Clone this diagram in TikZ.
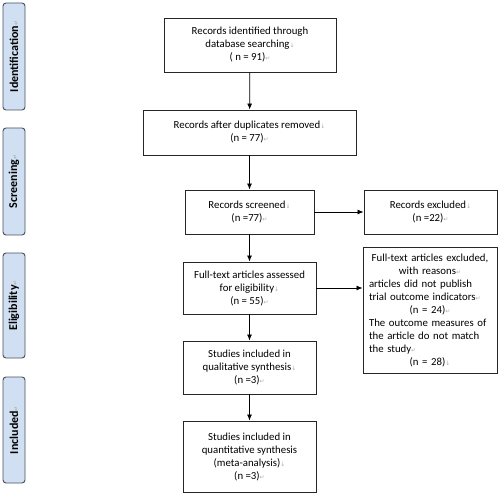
\documentclass[tikz,border=0pt]{standalone}
\usepackage{fontspec}
\setmainfont{Carlito}
\newfontfamily\symfont{DejaVu Sans}
\usetikzlibrary{arrows.meta}
\definecolor{sidefill}{RGB}{208,224,242}
\definecolor{sideline}{RGB}{70,80,90}
\definecolor{markgray}{RGB}{175,175,175}
\newcommand{\retm}{{\symfont\fontsize{6}{6}\selectfont\color{markgray}\char"21B5}}
\newcommand{\dnm}{{\symfont\fontsize{6}{6}\selectfont\color{markgray}\char"2193}}
\tikzset{
  box/.style={draw=black!85, line width=0.9pt, fill=white, align=center, inner sep=2pt,
    font=\fontsize{10.8}{13}\selectfont},
  side/.style={draw=sideline, line width=0.9pt, fill=sidefill, rounded corners=3pt,
    minimum width=22pt, inner sep=0pt, font=\bfseries\fontsize{12}{12}\selectfont},
  arr/.style={-{Latex[length=6pt,width=5pt]}, line width=0.8pt, black}
}
\begin{document}
\begin{tikzpicture}[x=1pt,y=-1pt]
\useasboundingbox (0,0) rectangle (500,494);
% side labels
\node[side, minimum height=107pt] (sid) at (14,56.5) {\rotatebox{90}{Identification\retm}};
\node[side, minimum height=107pt] (ssc) at (14,181.5) {\rotatebox{90}{Screening\retm}};
\node[side, minimum height=105pt] (sel) at (14,305.5) {\rotatebox{90}{Eligibility\retm}};
\node[side, minimum height=106pt] (sin) at (14,430) {\rotatebox{90}{Included\retm}};
% main boxes
\node[box, minimum width=172pt, minimum height=54pt] (b1) at (250,45)
  {Records identified through\\ database searching\dnm\\ ( n = 91)\retm};
\node[box, minimum width=213pt, minimum height=45pt] (b2) at (249.5,132.5)
  {Records after duplicates removed\dnm\\ (n = 77)\retm};
\node[box, minimum width=129pt, minimum height=44pt] (b3) at (249.5,212)
  {Records screened\dnm\\ (n =77)\retm};
\node[box, minimum width=133pt, minimum height=44pt] (ex) at (430.5,212)
  {Records excluded\dnm\\ (n =22)\retm};
\node[box, minimum width=133pt, minimum height=52pt] (b4) at (249.5,288)
  {Full-text articles assessed\\ for eligibility\dnm\\ (n = 55)\retm};
\node[box, minimum width=134pt, minimum height=126pt, text width=122pt] (fte) at (430,310)
  {Full-text articles excluded,\\ with reasons\retm\\
   \makebox[122pt][l]{articles did not publish}\\
   \makebox[122pt][l]{trial outcome indicators\retm}\\
   (n = 24)\retm\\
   \makebox[122pt][l]{The outcome measures of}\\
   \makebox[122pt][l]{the article do not match}\\
   \makebox[122pt][l]{the study\retm}\\
   (n = 28)\dnm};
\node[box, minimum width=133pt, minimum height=53pt] (b5) at (249.5,367.5)
  {Studies included in\\ qualitative synthesis\dnm\\ (n =3)\retm};
\node[box, minimum width=133pt, minimum height=71pt] (b6) at (249.5,456.5)
  {Studies included in\\ quantitative synthesis\\ (meta-analysis)\dnm\\ (n =3)\retm};
% connectors
\draw[arr] (b1) -- (b2);
\draw[arr] (b2.south -| b3) -- (b3);
\draw[arr] (b3) -- (b4);
\draw[arr] (b4) -- (b5);
\draw[arr] (b5) -- (b6);
\draw[arr] (b3) -- (ex);
\draw[arr] (b4.east) -- (b4.east -| fte.west);
\end{tikzpicture}
\end{document}
